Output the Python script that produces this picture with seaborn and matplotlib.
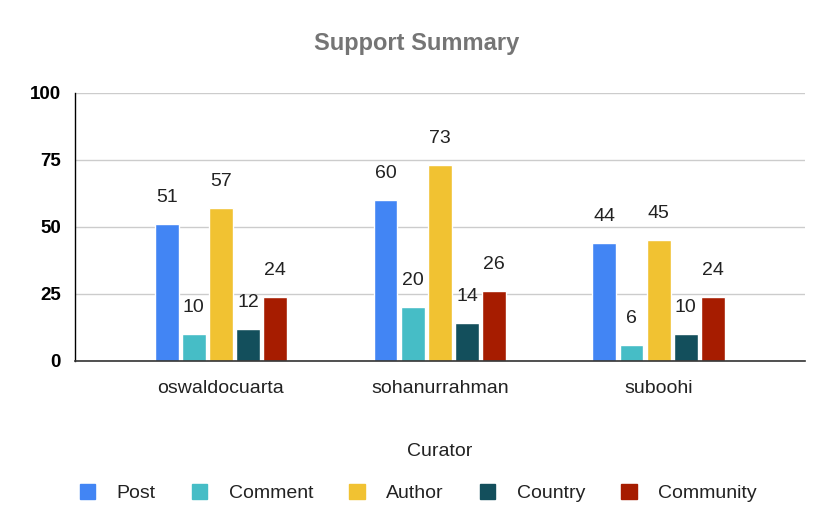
import numpy as np
import pandas as pd
import matplotlib
matplotlib.use("Agg")
import matplotlib.pyplot as plt
import seaborn as sns
from matplotlib.patches import Patch

# ----------------------------------------------------------
# DATA
# ----------------------------------------------------------

curators = ["oswaldocuarta", "sohanurrahman", "suboohi"]
metrics = ["Post", "Comment", "Author", "Country", "Community"]

post      = [51, 60, 44]
comment   = [10, 20, 6]
author    = [57, 73, 45]
country   = [12, 14, 10]
community = [24, 26, 24]

colors = ["#4285f4", "#46bdc6", "#f1c232", "#134f5c", "#a61c00"]

# ----------------------------------------------------------
# LONG TABLE
# ----------------------------------------------------------

rows = []
for name, vals in zip(metrics, [post, comment, author, country, community]):
    for cur, v in zip(curators, vals):
        rows.append({"Curator": cur, "Metric": name, "Value": v})
df = pd.DataFrame(rows)

# ----------------------------------------------------------
# PLOT
# ----------------------------------------------------------

sns.set_style("white")
plt.rcParams["font.family"] = ["Liberation Sans", "DejaVu Sans"]

fig = plt.figure(figsize=(8.33, 5.3), dpi=100)
ax = fig.add_axes([0.090, 0.319, 0.876, 0.506])

sns.barplot(
    data=df,
    x="Curator",
    y="Value",
    hue="Metric",
    hue_order=metrics,
    palette=colors,
    saturation=1,
    width=0.62,
    gap=0.12,
    legend=False,
    ax=ax
)

for container in ax.containers:
    for bar in container:
        h = bar.get_height()
        ax.annotate(
            f"{h:.0f}",
            (bar.get_x() + bar.get_width() / 2, h),
            xytext=(0, 13),
            textcoords="offset points",
            ha="center",
            va="bottom",
            fontsize=14,
            color="#222222"
        )

ax.set_ylim(0, 100)
ax.set_yticks([0, 25, 50, 75, 100])
ax.set_xlim(-0.667, 2.667)
ax.yaxis.grid(True, color="#cccccc", linewidth=1)
ax.set_axisbelow(True)

for s in ["top", "right"]:
    ax.spines[s].set_visible(False)
ax.spines["left"].set_color("#000000")
ax.spines["left"].set_linewidth(1)
ax.spines["bottom"].set_color("#333333")
ax.spines["bottom"].set_linewidth(1.2)

ax.tick_params(axis="y", length=0, labelsize=13.5, pad=10, labelcolor="#000000")
ax.tick_params(axis="x", length=0, labelsize=14, pad=14, labelcolor="#222222")
for lab in ax.get_yticklabels():
    lab.set_fontweight("bold")

ax.set_ylabel("")
ax.set_xlabel("Curator", fontsize=14, color="#222222", labelpad=33)

fig.suptitle("Support Summary", x=0.5, y=0.94, fontsize=17,
             fontweight="bold", color="#757575")

handles = [Patch(facecolor=c, edgecolor=c) for c in colors]
fig.legend(
    handles,
    metrics,
    loc="center",
    bbox_to_anchor=(0.502, 0.07),
    ncol=5,
    frameon=False,
    fontsize=14,
    handlelength=0.8,
    handleheight=0.8,
    handletextpad=1.1,
    columnspacing=1.85,
    labelcolor="#222222"
)

fig.savefig("out.png", dpi=100)
plt.close(fig)
